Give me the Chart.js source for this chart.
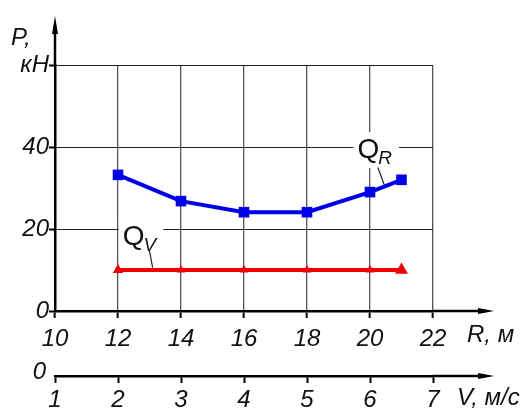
<!DOCTYPE html>
<html>
<head>
<meta charset="utf-8">
<script src="https://cdn.jsdelivr.net/npm/chart.js@4/dist/chart.umd.min.js"></script>
<style>
  html, body { margin: 0; padding: 0; background: #fff; }
  #wrap { width: 531px; height: 410px; }
</style>
</head>
<body>
<div id="wrap"><canvas id="chart" width="531" height="410"></canvas></div>
<script>
// data
const rValues = [12, 14, 16, 18, 20, 21]
const qR = [33.2, 26.8, 24.1, 24.1, 29, 32]
const qV = [10, 10, 10, 10, 10, 10]
const rTicks = [10, 12, 14, 16, 18, 20, 22]
const vTicks = [1, 2, 3, 4, 5, 6, 7]
const pTicks = [0, 20, 40, 60]

const font = 'Liberation Sans'
const tickFont = { family: font, size: 24, style: 'italic' }

const setTicks = list => scale => { scale.ticks = list.map(v => ({ value: v })) }

const arrowRight = (ctx, x0, x1, y) => {
  ctx.beginPath()
  ctx.moveTo(x0, y)
  ctx.lineTo(x1 - 8, y)
  ctx.stroke()
  ctx.beginPath()
  ctx.moveTo(x1, y)
  ctx.lineTo(x1 - 16, y - 3)
  ctx.lineTo(x1 - 16, y + 3)
  ctx.closePath()
  ctx.fill()
}

const qLabel = (ctx, x, y, main, sub) => {
  ctx.font = 'normal 28px ' + font
  const w = ctx.measureText(main).width
  ctx.font = 'italic 19px ' + font
  const ws = ctx.measureText(sub).width
  ctx.fillStyle = '#fff'
  ctx.fillRect(x - 4, y - 26, w + ws + 10, 36)
  ctx.fillStyle = '#111'
  ctx.textBaseline = 'alphabetic'
  ctx.textAlign = 'left'
  ctx.font = 'normal 28px ' + font
  ctx.fillText(main, x, y)
  ctx.font = 'italic 19px ' + font
  ctx.fillText(sub, x + w - 1, y + 6)
}

const decor = {
  id: 'decor',
  afterDraw(chart) {
    const ctx = chart.ctx
    const a = chart.chartArea
    const sx = chart.scales.x
    const sy = chart.scales.y
    const x2 = chart.scales.x2
    ctx.save()
    ctx.strokeStyle = '#000'
    ctx.fillStyle = '#000'
    ctx.lineWidth = 2.5
    // axis extensions with arrows
    arrowRight(ctx, a.right, 494, a.bottom)
    arrowRight(ctx, a.right, 494, x2.top)
    ctx.beginPath()
    ctx.moveTo(a.left, a.top)
    ctx.lineTo(a.left, 26)
    ctx.stroke()
    ctx.beginPath()
    ctx.moveTo(a.left, 16)
    ctx.lineTo(a.left - 3, 34)
    ctx.lineTo(a.left + 3, 34)
    ctx.closePath()
    ctx.fill()

    // axis titles
    ctx.font = 'italic 24px ' + font
    ctx.fillStyle = '#111'
    ctx.textBaseline = 'middle'
    ctx.textAlign = 'left'
    ctx.fillText('P,', 11, 38)
    ctx.fillText('R, м', 467, a.bottom + 24)
    ctx.fillText('V, м/с', 457, x2.top + 22)
    ctx.textAlign = 'right'
    ctx.fillText('0', 46, x2.top - 4)

    // series labels with leader lines
    qLabel(ctx, sx.getPixelForValue(19.6), sy.getPixelForValue(37.3), 'Q', 'R')
    qLabel(ctx, sx.getPixelForValue(12.15), sy.getPixelForValue(16.2), 'Q', 'V')
    ctx.strokeStyle = '#222'
    ctx.lineWidth = 1.2
    ctx.beginPath()
    ctx.moveTo(sx.getPixelForValue(20.25), sy.getPixelForValue(35.0))
    ctx.lineTo(sx.getPixelForValue(20.45), sy.getPixelForValue(30.8))
    ctx.moveTo(sx.getPixelForValue(13.0), sy.getPixelForValue(14.6))
    ctx.lineTo(sx.getPixelForValue(13.1), sy.getPixelForValue(10.6))
    ctx.stroke()
    ctx.restore()
  }
}

new Chart(document.getElementById('chart'), {
  type: 'line',
  data: {
    datasets: [
      {
        data: rValues.map((r, i) => ({ x: r, y: qR[i] })),
        borderColor: '#0000e6',
        backgroundColor: '#0000e6',
        borderWidth: 4,
        pointStyle: 'rect',
        pointRadius: 7.5,
        pointBorderWidth: 0,
        xAxisID: 'x'
      },
      {
        data: rValues.map((r, i) => ({ x: r, y: qV[i] })),
        borderColor: '#f00000',
        backgroundColor: '#f00000',
        borderWidth: 4,
        pointStyle: 'triangle',
        pointRadius: [6, 5, 5, 5, 5, 7.5],
        pointBorderWidth: 0,
        xAxisID: 'x'
      }
    ]
  },
  options: {
    responsive: false,
    animation: false,
    layout: { padding: { top: 65, right: 98, left: 0, bottom: 0 } },
    plugins: { legend: { display: false }, tooltip: { enabled: false } },
    scales: {
      x: {
        type: 'linear',
        position: 'bottom',
        min: 10,
        max: 22,
        afterBuildTicks: setTicks(rTicks),
        afterFit: s => { s.height = 65 },
        grid: { color: '#555', lineWidth: 1.3, tickLength: 7, tickColor: '#000', tickWidth: 2 },
        border: { color: '#000', width: 2.5 },
        ticks: { font: tickFont, color: '#111', padding: 7, maxRotation: 0 }
      },
      x2: {
        type: 'linear',
        position: 'bottom',
        min: 1,
        max: 7,
        afterBuildTicks: setTicks(vTicks),
        afterFit: s => { s.height = 34 },
        grid: { drawOnChartArea: false, tickLength: 7, tickColor: '#000', tickWidth: 2 },
        border: { color: '#000', width: 2.5 },
        ticks: { font: tickFont, color: '#111', padding: 3, maxRotation: 0 }
      },
      y: {
        min: 0,
        max: 60,
        afterBuildTicks: setTicks(pTicks),
        afterFit: s => { s.width = 55 },
        grid: { color: '#222', lineWidth: 1, tickLength: 6, tickColor: '#000', tickWidth: 2 },
        border: { color: '#000', width: 2.5 },
        ticks: {
          font: tickFont,
          color: '#111',
          padding: 0,
          callback: v => (v === 60 ? 'кН' : v)
        }
      }
    }
  },
  plugins: [decor]
})
</script>
</body>
</html>
